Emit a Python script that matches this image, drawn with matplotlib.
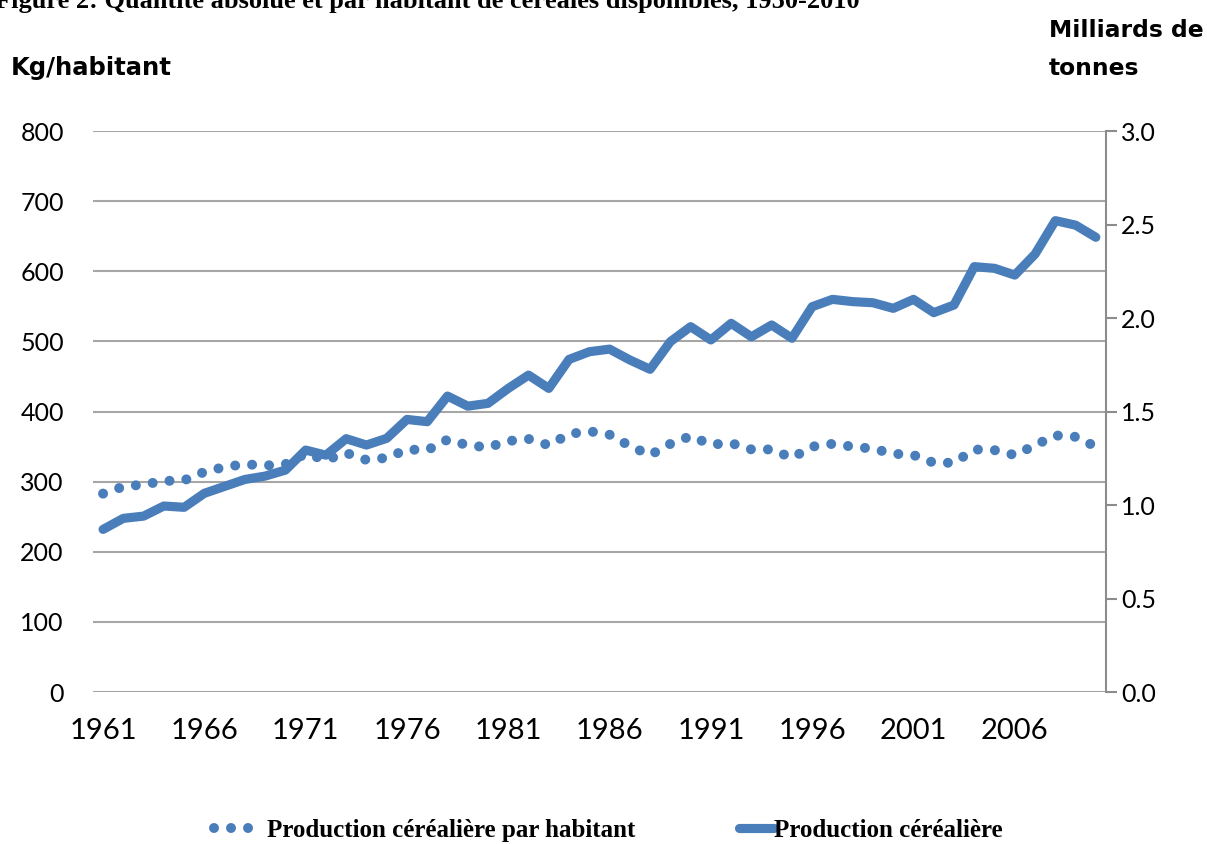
import matplotlib.pyplot as plt
import numpy as np

# years on the category axis
years = list(range(1961, 2011))

# per-capita cereal production (kg/habitant), left axis
par_habitant = [283, 293, 296, 301, 302, 314, 321, 325, 323, 325,
                340, 331, 341, 331, 334, 346, 345, 360, 352, 349,
                358, 361, 352, 368, 372, 367, 351, 338, 354, 365,
                353, 355, 346, 346, 334, 350, 354, 350, 347, 340,
                338, 327, 327, 346, 345, 338, 352, 366, 364, 350]

# total cereal production (milliards de tonnes), right axis
production = [0.870, 0.929, 0.941, 0.995, 0.988, 1.063, 1.100, 1.137, 1.155, 1.187,
              1.294, 1.267, 1.355, 1.321, 1.357, 1.458, 1.446, 1.583, 1.529, 1.544,
              1.624, 1.695, 1.624, 1.779, 1.820, 1.834, 1.776, 1.726, 1.874, 1.954,
              1.883, 1.972, 1.900, 1.963, 1.892, 2.061, 2.100, 2.088, 2.082, 2.052,
              2.100, 2.029, 2.070, 2.275, 2.266, 2.230, 2.342, 2.521, 2.497, 2.432]

left_ticks = list(range(0, 801, 100))
right_ticks = [0.0, 0.5, 1.0, 1.5, 2.0, 2.5, 3.0]

blue = '#4A7EBB'
grey = '#8C8C8C'
lw_solid = 6.6
lw_dot = 7.2

plt.rcParams['font.family'] = ['Lato', 'DejaVu Sans']

fig = plt.figure(figsize=(12.07, 8.44), dpi=100)
ax = fig.add_axes([0.077, 0.180, 0.8393, 0.6647])
ax2 = ax.twinx()

x = np.arange(len(years))

l1, = ax.plot(x, par_habitant, color=blue, lw=lw_dot,
              linestyle=(0, (0.001, 1.7)), dash_capstyle='round')
l2, = ax2.plot(x, production, color=blue, lw=lw_solid, solid_capstyle='round',
               solid_joinstyle='round')

ax.set_xlim(-0.5, len(years) - 0.5)
ax.set_ylim(0, 800)
ax2.set_ylim(0, 3.0)
ax.set_yticks(left_ticks)
ax2.set_yticks(right_ticks)
ax2.set_yticklabels([f'{v:.1f}' for v in right_ticks])

ax.set_xticks(x[::5])
ax.set_xticklabels([str(y) for y in years[::5]])

ax.grid(axis='y', color='#A6A6A6', lw=1.5)
ax.set_axisbelow(True)

for a in (ax, ax2):
    for s in ('top', 'left', 'bottom', 'right'):
        a.spines[s].set_visible(False)
ax2.spines['right'].set_visible(True)
ax2.spines['right'].set_color(grey)
ax2.spines['right'].set_linewidth(1.5)

ax.tick_params(axis='y', length=0, pad=21, labelsize=18)
ax.tick_params(axis='x', length=0, pad=19, labelsize=21)
ax2.tick_params(axis='y', length=8, width=1.5, color=grey, pad=3, labelsize=18)

head = dict(fontweight='bold', va='center', family='DejaVu Sans')
fig.text(0.009, 0.919, 'Kg/habitant', fontsize=17.5, **head)
fig.text(0.869, 0.964, 'Milliards de', fontsize=16.8, **head)
fig.text(0.869, 0.919, 'tonnes', fontsize=16.8, **head)

fig.text(-0.004, 0.998,
         'Figure 2: Quantité absolue et par habitant de céréales disponibles, 1950-2010',
         fontsize=19, fontweight='bold', va='center', family='Liberation Serif')

leg_font = {'family': 'Liberation Serif', 'weight': 'bold', 'size': 18}
fig.legend([l1], ['Production céréalière par habitant'], loc='center left',
           bbox_to_anchor=(0.177, 0.016), frameon=False, borderpad=0,
           borderaxespad=0, handlelength=1.85, handletextpad=0.3, prop=leg_font)
fig.legend([l2], ['Production céréalière'], loc='center left',
           bbox_to_anchor=(0.612, 0.016), frameon=False, borderpad=0,
           borderaxespad=0, handlelength=1.4, handletextpad=0.0, prop=leg_font)

fig.savefig('out.png', dpi=100)
